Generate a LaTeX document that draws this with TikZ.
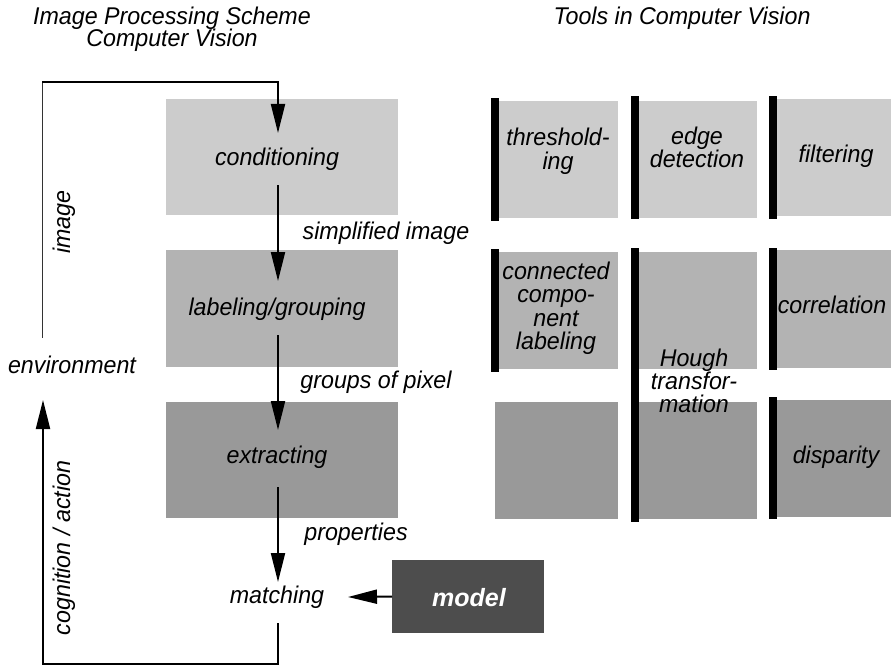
\documentclass[tikz,border=0pt]{standalone}
\usepackage{fontspec}
\setmainfont{Liberation Sans}
\newfontfamily\lblfont[FakeStretch=0.96]{Liberation Sans}
\usetikzlibrary{arrows.meta}
\definecolor{gA}{gray}{0.8}
\definecolor{gB}{gray}{0.702}
\definecolor{gC}{gray}{0.6}
\definecolor{gD}{gray}{0.302}
\begin{document}
\begin{tikzpicture}[x=1pt,y=-1pt,
  lbl/.style={font=\lblfont\fontsize{24.2}{26}\selectfont\itshape, inner sep=0pt, outer sep=0pt, anchor=base},
  box/.style={anchor=north west, inner sep=0pt, outer sep=0pt, draw=none},
  bar/.style={box, fill=black, minimum width=8pt},
  arr/.style={line width=2pt, -{Triangle[length=29pt,width=14pt]}},
  thinln/.style={line width=1pt, draw=black!80}]
\useasboundingbox (0,0) rectangle (891,666);

% titles
\node[lbl] (t1a) at (172,25) {Image Processing Scheme};
\node[lbl] (t1b) at (172,47) {Computer Vision};
\node[lbl] (t2) at (682,25) {Tools in Computer Vision};

% left column boxes
\node[box, fill=gA, minimum width=232pt, minimum height=116pt] (cond) at (166,99) {};
\node[box, fill=gB, minimum width=232pt, minimum height=117pt] (lab) at (166,250) {};
\node[box, fill=gC, minimum width=232pt, minimum height=116pt] (ext) at (166,402) {};
\node[box, fill=gD, minimum width=152pt, minimum height=73pt] (model) at (392,560) {};

\node[lbl] (condT) at (277,165) {conditioning};
\node[lbl] (labT) at (277,315) {labeling/grouping};
\node[lbl] (extT) at (277,463) {extracting};
\node[lbl] (matchT) at (277,603) {matching};
\node[lbl, text=white, font=\fontsize{25}{26}\selectfont\bfseries\itshape] (modelT) at (469,606) {model};

\node[lbl] (simpL) at (386,239) {simplified image};
\node[lbl] (grpL) at (376,388) {groups of pixel};
\node[lbl] (propL) at (356,540) {properties};
\node[lbl] (envL) at (72,373) {environment};
\node[lbl, rotate=90] (imgL) at (70,222) {image};
\node[lbl, rotate=90] (cogL) at (70,548) {cognition / action};

% connector points
\coordinate (tl) at (42,82);
\coordinate (tr) at (278,82);
\coordinate (envTop) at (42,338);
\coordinate (a1) at (278,133);
\coordinate (a2s) at (278,185);
\coordinate (a2e) at (278,281);
\coordinate (a3s) at (278,335);
\coordinate (a3e) at (278,430);
\coordinate (a4s) at (278,487);
\coordinate (a4e) at (278,582);
\coordinate (b1) at (278,623);
\coordinate (b2) at (278,664);
\coordinate (b3) at (43,664);
\coordinate (b4) at (43,400);
\coordinate (mIn) at (348,597);

\draw[thinln] (tl) -- (envTop);
\draw[arr] (tl) -- (tr) -- (a1);
\draw[arr] (a2s) -- (a2e);
\draw[arr] (a3s) -- (a3e);
\draw[arr] (a4s) -- (a4e);
\draw[arr] (b1) -- (b2) -- (b3) -- (b4);
\draw[arr] (model.west) -- (mIn);

% tools: row 1
\node[box, fill=gA, minimum width=119pt, minimum height=117pt] (thr) at (499,101) {};
\node[bar, minimum height=123pt] (thrBar) at (491,98) {};
\node[box, fill=gA, minimum width=118pt, minimum height=117pt] (edge) at (639,101) {};
\node[bar, minimum height=123pt] (edgeBar) at (631,96) {};
\node[box, fill=gA, minimum width=114pt, minimum height=117pt] (filt) at (777,99) {};
\node[bar, minimum height=123pt] (filtBar) at (769,96) {};

% row 2
\node[box, fill=gB, minimum width=119pt, minimum height=117pt] (conn) at (499,252) {};
\node[bar, minimum height=123pt] (connBar) at (491,249) {};
\node[box, fill=gB, minimum width=118pt, minimum height=117pt] (houghA) at (639,252) {};
\node[box, fill=gC, minimum width=118pt, minimum height=117pt] (houghB) at (639,402) {};
\node[bar, minimum height=274pt] (houghBar) at (631,248) {};
\node[box, fill=gB, minimum width=114pt, minimum height=118pt] (corr) at (777,250) {};
\node[bar, minimum height=122pt] (corrBar) at (769,248) {};

% row 3
\node[box, fill=gC, minimum width=123pt, minimum height=117pt] (empt) at (495,402) {};
\node[box, fill=gC, minimum width=114pt, minimum height=117pt] (disp) at (777,400) {};
\node[bar, minimum height=122pt] (dispBar) at (769,397) {};

% tool texts
\node[lbl] (thrT1) at (558,146) {threshold-};
\node[lbl] (thrT2) at (558,169) {ing};
\node[lbl] (edgeT1) at (697,145) {edge};
\node[lbl] (edgeT2) at (697,167) {detection};
\node[lbl] (filtT) at (836,162) {filtering};
\node[lbl] (connT1) at (556,279) {connected};
\node[lbl] (connT2) at (556,302) {compo-};
\node[lbl] (connT3) at (556,326) {nent};
\node[lbl] (connT4) at (556,349) {labeling};
\node[lbl] (houghT1) at (694,366) {Hough};
\node[lbl] (houghT2) at (694,389) {transfor-};
\node[lbl] (houghT3) at (694,412) {mation};
\node[lbl] (corrT) at (832,313) {correlation};
\node[lbl] (dispT) at (836,463) {disparity};
\end{tikzpicture}
\end{document}
